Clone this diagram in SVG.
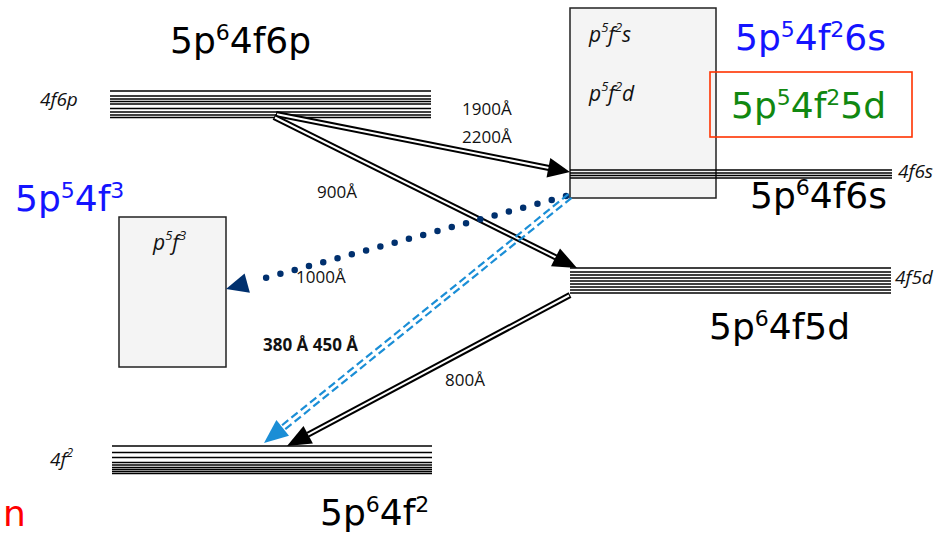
<svg xmlns="http://www.w3.org/2000/svg" width="952" height="538" viewBox="0 0 952 538">
<style>
.lv line{stroke:#000;stroke-width:1.6}
.big{font-family:"DejaVu Sans",sans-serif;font-size:36px}
.it{font-family:"Open Sans",sans-serif;font-style:italic;font-size:19px;fill:#111}
.bx{font-family:"Open Sans",sans-serif;font-style:italic;font-size:21px;fill:#111}
.wl{font-family:"Open Sans",sans-serif;font-size:17px;fill:#111}
.box{fill:#f4f4f4;stroke:#222;stroke-width:1.5}
.dbl-o{stroke:#000;stroke-width:6;fill:none}
.dbl-i{stroke:#fff;stroke-width:2;fill:none}
</style>
<rect width="952" height="538" fill="#fff"/>

<g id="box-p5f3"><rect class="box" x="119" y="217" width="107" height="150"/>
<text class="bx" x="153" y="250">p<tspan font-size="13" dy="-10">5</tspan><tspan dy="10">f</tspan><tspan font-size="13" dy="-10">3</tspan></text></g>

<g id="box-p5f2"><rect class="box" x="570" y="8" width="146" height="190"/>
<text class="bx" x="589" y="42">p<tspan font-size="13" dy="-10">5</tspan><tspan dy="10">f</tspan><tspan font-size="13" dy="-10">2</tspan><tspan dy="10">s</tspan></text>
<text class="bx" x="589" y="101">p<tspan font-size="13" dy="-10">5</tspan><tspan dy="10">f</tspan><tspan font-size="13" dy="-10">2</tspan><tspan dy="10">d</tspan></text></g>

<g id="level-4f6p" class="lv">
<line x1="110" x2="431" y1="91" y2="91"/><line x1="110" x2="431" y1="96" y2="96"/><line x1="110" x2="431" y1="99" y2="99"/>
<line x1="110" x2="431" y1="101.5" y2="101.5"/><line x1="110" x2="431" y1="104" y2="104"/><line x1="110" x2="431" y1="108.5" y2="108.5"/>
<line x1="110" x2="431" y1="112" y2="112"/><line x1="110" x2="431" y1="115" y2="115"/><line x1="110" x2="431" y1="117.5" y2="117.5"/>
<text class="it" x="40" y="106">4f6p</text>
<text class="big" x="170" y="53">5p<tspan font-size="22" dy="-13">6</tspan><tspan dy="13">4f6p</tspan></text></g>

<g id="level-4f6s" class="lv">
<line x1="570" x2="892" y1="170" y2="170"/><line x1="570" x2="892" y1="173" y2="173"/><line x1="570" x2="892" y1="175.5" y2="175.5"/><line x1="570" x2="892" y1="178" y2="178"/>
<text class="it" x="898" y="178">4f6s</text>
<text class="big" x="750" y="208">5p<tspan font-size="22" dy="-13">6</tspan><tspan dy="13">4f6s</tspan></text></g>

<g id="level-4f5d" class="lv">
<line x1="570" x2="891" y1="268" y2="268"/><line x1="570" x2="891" y1="272" y2="272"/><line x1="570" x2="891" y1="275" y2="275"/>
<line x1="570" x2="891" y1="278" y2="278"/><line x1="570" x2="891" y1="281" y2="281"/><line x1="570" x2="891" y1="284" y2="284"/>
<line x1="570" x2="891" y1="287" y2="287"/><line x1="570" x2="891" y1="290" y2="290"/><line x1="570" x2="891" y1="293" y2="293"/>
<text class="it" x="895" y="284">4f5d</text>
<text class="big" x="709" y="339">5p<tspan font-size="22" dy="-13">6</tspan><tspan dy="13">4f5d</tspan></text></g>

<g id="level-4f2" class="lv">
<line x1="112" x2="432" y1="446" y2="446"/><line x1="112" x2="432" y1="452.5" y2="452.5"/><line x1="112" x2="432" y1="457.5" y2="457.5"/>
<line x1="112" x2="432" y1="462.5" y2="462.5"/><line x1="112" x2="432" y1="465" y2="465"/><line x1="112" x2="432" y1="467.5" y2="467.5"/>
<line x1="112" x2="432" y1="469.5" y2="469.5"/><line x1="112" x2="432" y1="471.5" y2="471.5"/><line x1="112" x2="432" y1="473.5" y2="473.5"/>
<text class="it" x="50" y="466">4f<tspan font-size="12" dy="-9">2</tspan></text>
<text class="big" x="320" y="525">5p<tspan font-size="22" dy="-13">6</tspan><tspan dy="13">4f</tspan><tspan font-size="22" dy="-13">2</tspan></text></g>

<g id="label-5p54f3"><text class="big" x="15" y="211" fill="#1414ff">5p<tspan font-size="22" dy="-13">5</tspan><tspan dy="13">4f</tspan><tspan font-size="22" dy="-13">3</tspan></text></g>
<g id="label-5p54f26s"><text class="big" x="735" y="50" fill="#1414ff">5p<tspan font-size="22" dy="-13">5</tspan><tspan dy="13">4f</tspan><tspan font-size="22" dy="-13">2</tspan><tspan dy="13">6s</tspan></text></g>
<g id="label-5p54f25d"><rect x="710" y="72" width="202" height="65" fill="none" stroke="#ff3300" stroke-width="1.6"/>
<text class="big" x="731" y="118" fill="#118811">5p<tspan font-size="22" dy="-13">5</tspan><tspan dy="13">4f</tspan><tspan font-size="22" dy="-13">2</tspan><tspan dy="13">5d</tspan></text></g>
<g id="label-n"><text class="big" x="3" y="526" font-size="36" fill="#ff0000">n</text></g>

<g id="connectors">
<path class="dbl-o" d="M276,114 L549,168"/><path class="dbl-i" d="M277,114.2 L549,168"/>
<polygon points="570,172 546.5,177.5 550.3,157.9" fill="#000"/>
<path class="dbl-o" d="M274,117 L556,257.5"/><path class="dbl-i" d="M275,117.5 L556,257.5"/>
<polygon points="577,268 551,266.2 560,248.4" fill="#000"/>
<path class="dbl-o" d="M570,295 L308,434.7"/><path class="dbl-i" d="M569,295.5 L308,434.7"/>
<polygon points="287,446 312.9,443.5 303.5,425.9" fill="#000"/>
<path d="M566,196 L254,281" stroke="#00306e" stroke-width="6.5" stroke-linecap="round" stroke-dasharray="0 14.8" fill="none"/>
<polygon points="226,289 249.9,292.8 244.6,273.5" fill="#00306e"/>
<path d="M571.6,197.9 L284.3,429.9 M568.4,194.1 L281.1,426" stroke="#1b8ed6" stroke-width="2.2" stroke-dasharray="8 4" fill="none"/>
<polygon points="264,443 289,435.7 276.4,420.1" fill="#1b8ed6"/>
</g>

<g id="wavelengths">
<text class="wl" x="462" y="115">1900Å</text>
<text class="wl" x="462" y="143">2200Å</text>
<text class="wl" x="317" y="198">900Å</text>
<text class="wl" x="296" y="283">1000Å</text>
<text class="wl" x="263" y="351" font-weight="bold">380 Å 450 Å</text>
<text class="wl" x="445" y="386">800Å</text>
</g>
</svg>
